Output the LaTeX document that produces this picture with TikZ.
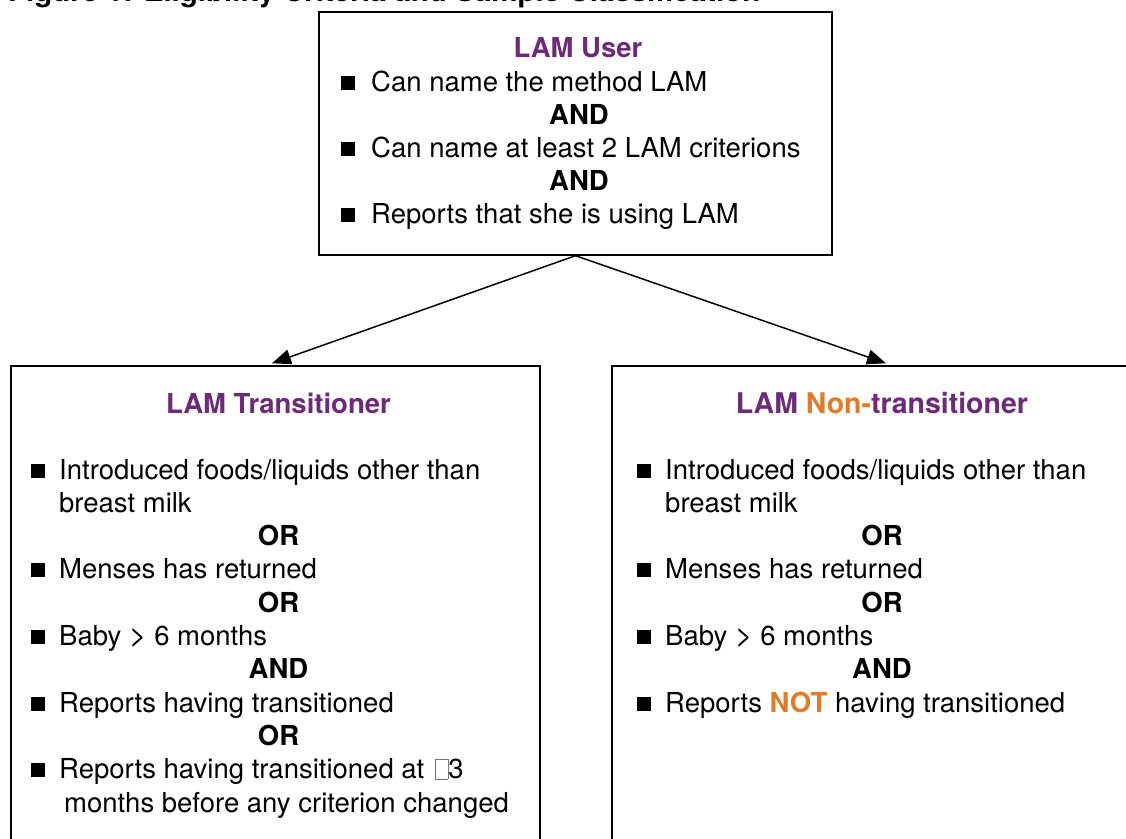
\documentclass[tikz,border=0pt]{standalone}
\usepackage{fontspec}
\setmainfont{TeX Gyre Heros}
\usetikzlibrary{arrows.meta}
\definecolor{lampurple}{HTML}{6E2A7A}
\definecolor{lamorange}{HTML}{E07B2A}
\newcommand{\missingglyph}{{\color{black!55}\setlength{\fboxsep}{0pt}\setlength{\fboxrule}{0.7pt}\fbox{\rule{0pt}{19pt}\hspace{12pt}}}}
\tikzset{
  x=1pt, y=-1pt,
  every node/.style={font=\fontsize{27.5}{33}\selectfont, inner sep=0pt},
  framebox/.style={draw=black, line width=1.4pt, rectangle, inner sep=0pt},
  txt/.style={anchor=base west},
  ctr/.style={anchor=base, font=\fontsize{27.5}{33}\selectfont\bfseries},
  ttl/.style={anchor=base, font=\fontsize{27.5}{33}\selectfont\bfseries, text=lampurple},
  sq/.style={fill=black, minimum size=14pt, inner sep=0pt, rectangle},
  arr/.style={line width=1.5pt, -{Triangle[length=19pt,width=15pt]}}
}
\begin{document}
\begin{tikzpicture}
\useasboundingbox (0,0) rectangle (1126,838);
\fill[white] (0,0) rectangle (1126,838);
% title (cut off at the top)
\node[anchor=base west, font=\fontsize{29.5}{33}\selectfont\bfseries] (fig) at (8,1) {Figure 1: Eligibility Criteria and Sample Classification};
% boxes
\node[framebox, minimum width=513pt, minimum height=243pt] (user) at (575.5,133.5) {};
\node[framebox, minimum width=529pt, minimum height=500pt] (trans) at (275.5,616) {};
\node[framebox, minimum width=540pt, minimum height=500pt] (non) at (882,616) {};
% arrows
\draw[arr] (user.south) -- ([xshift=-3.5pt,yshift=2pt]trans.north);
\draw[arr] (user.south) -- ([xshift=4pt,yshift=2pt]non.north);
% top box
\node[ttl] (t1) at (578,57) {LAM User};
\node[sq] (b1) at (347.5,83) {};
\node[txt] (l1) at (371,91) {Can name the method LAM};
\node[ctr] (a1) at (579,124) {AND};
\node[sq] (b2) at (347.5,149) {};
\node[txt] (l2) at (371,157) {Can name at least 2 LAM criterions};
\node[ctr] (a2) at (579,190) {AND};
\node[sq] (b3) at (347.5,215) {};
\node[txt] (l3) at (371,223) {Reports that she is using LAM};
% left box
\node[ttl] (t2) at (278.5,413) {LAM Transitioner};
\node[sq] (c1) at (37.5,470.5) {};
\node[txt] (m1) at (59,479) {Introduced foods/liquids other than};
\node[txt] (m2) at (59,512.3) {breast milk};
\node[ctr] (o1) at (278.5,545.6) {OR};
\node[sq] (c2) at (37.5,570.4) {};
\node[txt] (m3) at (59,578.9) {Menses has returned};
\node[ctr] (o2) at (278.5,612.2) {OR};
\node[sq] (c3) at (37.5,637) {};
\node[txt] (m4) at (59,645.5) {Baby {\fontsize{30}{33}\selectfont>} 6 months};
\node[ctr] (o3) at (278.5,678.8) {AND};
\node[sq] (c4) at (37.5,703.6) {};
\node[txt] (m5) at (59,712.1) {Reports having transitioned};
\node[ctr] (o4) at (278.5,745.4) {OR};
\node[sq] (c5) at (37.5,770.2) {};
\node[txt] (m6) at (59,778.7) {Reports having transitioned at \hspace{3pt}\missingglyph3};
\node[txt] (m7) at (64,812) {months before any criterion changed};
% right box
\node[ttl, font=\fontsize{28.5}{33}\selectfont\bfseries] (t3) at (882,413) {LAM \textcolor{lamorange}{Non-}transitioner};
\node[sq] (d1) at (643.5,470.5) {};
\node[txt] (n1) at (665,479) {Introduced foods/liquids other than};
\node[txt] (n2) at (665,512.3) {breast milk};
\node[ctr] (p1) at (882,545.6) {OR};
\node[sq] (d2) at (643.5,570.4) {};
\node[txt] (n3) at (665,578.9) {Menses has returned};
\node[ctr] (p2) at (882,612.2) {OR};
\node[sq] (d3) at (643.5,637) {};
\node[txt] (n4) at (665,645.5) {Baby {\fontsize{30}{33}\selectfont>} 6 months};
\node[ctr] (p3) at (882,678.8) {AND};
\node[sq] (d4) at (643.5,703.6) {};
\node[txt] (n5) at (665,712.1) {Reports \textcolor{lamorange}{\bfseries NOT} having transitioned};
\end{tikzpicture}
\end{document}
